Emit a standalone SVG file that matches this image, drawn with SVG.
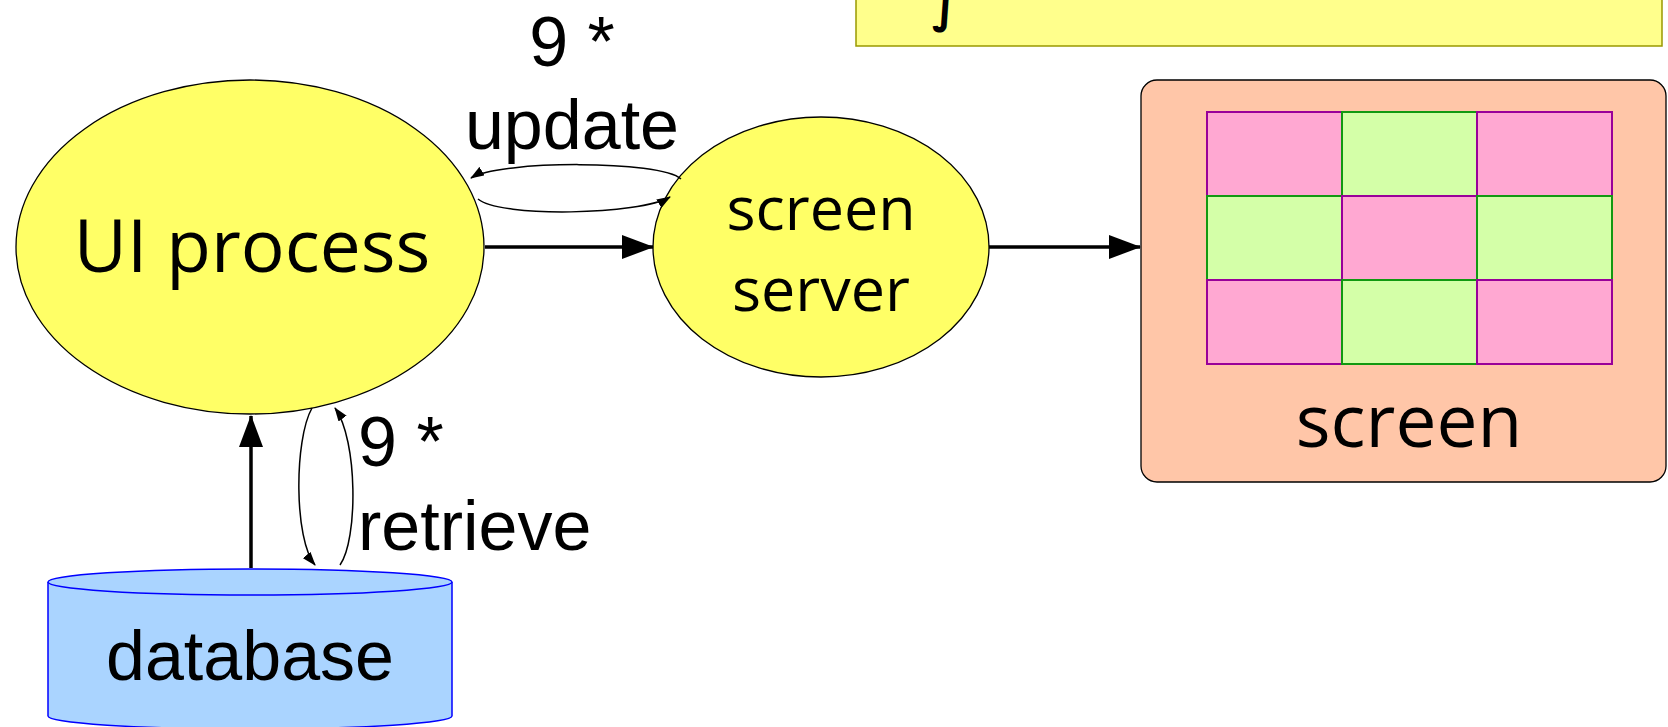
<svg xmlns="http://www.w3.org/2000/svg" width="1668" height="727" viewBox="0 0 1668 727">
<defs>
<style>
.ell{fill:#FFFF66;stroke:#000;stroke-width:1.3}
.cal{font-family:"Open Sans","Noto Sans",sans-serif;fill:#000;text-anchor:middle}
.ari{font-family:"Liberation Sans",Arial,sans-serif;fill:#000}
.thick{stroke:#000;stroke-width:3.5;fill:none}
.thin{stroke:#000;stroke-width:1.5;fill:none}
.pink{fill:#FFA8D2;stroke:#990099;stroke-width:2}
.green{fill:#D4FFA8;stroke:#119911;stroke-width:2}
</style>
<marker id="big" markerUnits="userSpaceOnUse" markerWidth="32" markerHeight="24" viewBox="0 0 32 24" refX="31" refY="12" orient="auto">
<path d="M0,0 L32,12 L0,24 Z" fill="#000"/>
</marker>
<marker id="small" markerUnits="userSpaceOnUse" markerWidth="14" markerHeight="10" viewBox="0 0 14 10" refX="13" refY="5" orient="auto">
<path d="M0,0 L14,5 L0,10 Z" fill="#000"/>
</marker>
</defs>
<rect width="1668" height="727" fill="#fff"/>

<g id="note">
<rect x="856" y="-10" width="806" height="56" fill="#FFFF8C" stroke="#999900" stroke-width="1.5"/>
<text x="932" y="22" font-family="DejaVu Sans,sans-serif" font-size="46" font-weight="bold" fill="#000">∫</text>
</g>

<g id="ui-process">
<ellipse class="ell" cx="250" cy="247" rx="234" ry="167"/>
<text class="cal" x="252" y="272" font-size="73">UI process</text>
</g>

<g id="screen-server">
<ellipse class="ell" cx="821" cy="247" rx="168" ry="130"/>
<text class="cal" x="821" y="230" font-size="61">screen</text>
<text class="cal" x="821" y="311" font-size="61">server</text>
</g>

<g id="screen">
<rect x="1141" y="80" width="525" height="402" rx="16" ry="16" fill="#FFC6A8" stroke="#000" stroke-width="1.3"/>
<rect class="pink" x="1207" y="112" width="135" height="84"/>
<rect class="green" x="1342" y="112" width="135" height="84"/>
<rect class="pink" x="1477" y="112" width="135" height="84"/>
<rect class="green" x="1207" y="196" width="135" height="84"/>
<rect class="pink" x="1342" y="196" width="135" height="84"/>
<rect class="green" x="1477" y="196" width="135" height="84"/>
<rect class="pink" x="1207" y="280" width="135" height="84"/>
<rect class="green" x="1342" y="280" width="135" height="84"/>
<rect class="pink" x="1477" y="280" width="135" height="84"/>
<text class="cal" x="1409" y="447" font-size="73">screen</text>
</g>

<g id="database">
<path d="M48,582 L48,716 A202,13 0 0 0 452,716 L452,582" fill="#AAD4FF" stroke="#0000FF" stroke-width="1.5"/>
<ellipse cx="250" cy="582" rx="202" ry="13" fill="#AAD4FF" stroke="#0000FF" stroke-width="1.5"/>
<text class="ari" x="250" y="680" font-size="70" text-anchor="middle">database</text>
</g>

<g id="connectors">
<line class="thick" x1="485" y1="247" x2="653" y2="247" marker-end="url(#big)"/>
<line class="thick" x1="989" y1="247" x2="1140" y2="247" marker-end="url(#big)"/>
<line class="thick" x1="251" y1="568" x2="251" y2="416" marker-end="url(#big)"/>
<path class="thin" d="M681,179 C660,160 500,160 471,178" marker-end="url(#small)"/>
<path class="thin" d="M478,199 C500,218 640,215 670,197" marker-end="url(#small)"/>
<path class="thin" d="M312,408 C294,440 294,540 315,565" marker-end="url(#small)"/>
<path class="thin" d="M340,565 C358,540 358,440 335,408" marker-end="url(#small)"/>
<text class="ari" x="572" y="66" font-size="70" text-anchor="middle">9 *</text>
<text class="ari" x="572" y="149" font-size="70" text-anchor="middle">update</text>
<text class="ari" x="358" y="466" font-size="70">9 *</text>
<text class="ari" x="358" y="550" font-size="70">retrieve</text>
</g>
</svg>
